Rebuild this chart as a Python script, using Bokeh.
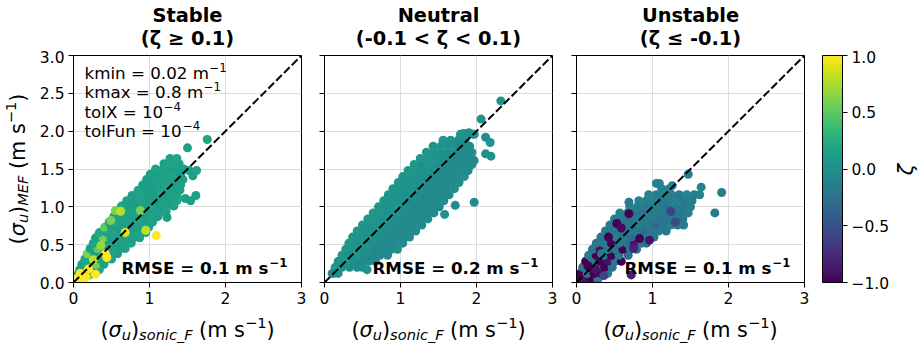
import math
from bokeh.plotting import figure
from bokeh.models import (Range1d, FixedTicker, NumeralTickFormatter, CustomJSTickFormatter,
                          LinearColorMapper, ColorBar, Label, Slope, ColumnDataSource)
from bokeh.layouts import row, column
from bokeh.palettes import Viridis256
from bokeh.embed import file_html
from bokeh.resources import INLINE

FONT = "DejaVu Sans"

# ---------------- data ----------------
panel_titles = ["Stable", "Neutral", "Unstable"]
panel_subtitles = ["(\u03b6 \u2265 0.1)", "(-0.1 < \u03b6 < 0.1)", "(\u03b6 \u2264 -0.1)"]
rmse_values = ["0.1", "0.2", "0.1"]
x_ticks = [0, 1, 2, 3]
y_ticks = [0, 0.5, 1.0, 1.5, 2.0, 2.5, 3.0]
cbar_ticks = [-1.0, -0.5, 0.0, 0.5, 1.0]
settings_lines = ["kmin = 0.02 m", "kmax = 0.8 m", "tolX = 10", "tolFun = 10"]
settings_sups = ["\u22121", "\u22121", "\u22124", "\u22124"]

# Stable: rows of the dense cloud
st_row_y = [0.03, 0.10, 0.17, 0.24, 0.31, 0.38, 0.45, 0.52, 0.59, 0.66, 0.73, 0.80,
            0.87, 0.94, 1.01, 1.08, 1.15, 1.22, 1.29, 1.36, 1.43, 1.50, 1.57, 1.64]
st_row_x = [
    [0.02, 0.10],
    [0.05, 0.14, 0.22],
    [0.08, 0.17, 0.26, 0.34],
    [0.11, 0.20, 0.30, 0.40],
    [0.15, 0.24, 0.34, 0.44, 0.50],
    [0.18, 0.28, 0.38, 0.48, 0.58],
    [0.22, 0.32, 0.42, 0.52, 0.62, 0.68],
    [0.26, 0.36, 0.46, 0.56, 0.66, 0.76],
    [0.29, 0.39, 0.49, 0.59, 0.69, 0.79, 0.87],
    [0.34, 0.44, 0.54, 0.64, 0.74, 0.84, 0.95],
    [0.41, 0.50, 0.60, 0.70, 0.80, 0.90, 0.99],
    [0.47, 0.56, 0.66, 0.76, 0.86, 0.96, 1.04],
    [0.53, 0.62, 0.72, 0.82, 0.92, 1.02, 1.11],
    [0.58, 0.67, 0.77, 0.87, 0.97, 1.07, 1.17, 1.22],
    [0.63, 0.73, 0.83, 0.93, 1.03, 1.13, 1.23, 1.32],
    [0.70, 0.80, 0.90, 1.00, 1.10, 1.20, 1.30, 1.36],
    [0.77, 0.87, 0.97, 1.07, 1.17, 1.27, 1.36],
    [0.85, 0.95, 1.05, 1.15, 1.25, 1.35, 1.40],
    [0.91, 1.01, 1.11, 1.21, 1.31, 1.41],
    [0.96, 1.06, 1.16, 1.26, 1.36, 1.44],
    [1.01, 1.11, 1.21, 1.31, 1.41],
    [1.08, 1.18, 1.28, 1.38, 1.45],
    [1.19, 1.29, 1.39],
    [1.27, 1.36],
]
st_row_z = [
    [0.17, 0.14],
    [0.2, 0.14, 0.55],
    [0.17, 0.5, 0.14, 0.2],
    [0.14, 0.2, 0.6, 0.14],
    [0.2, 0.14, 0.17, 0.14, 0.11],
    [0.6, 0.14, 0.2, 0.11, 0.14],
    [0.14, 0.5, 0.14, 0.17, 0.11, 0.14],
    [0.17, 0.14, 0.2, 0.11, 0.14, 0.17],
    [0.14, 0.6, 0.14, 0.17, 0.11, 0.14, 0.14],
    [0.2, 0.14, 0.17, 0.14, 0.11, 0.17, 0.14],
    [0.5, 0.14, 0.11, 0.17, 0.14, 0.11, 0.14],
    [0.14, 0.17, 0.14, 0.11, 0.17, 0.14, 0.11],
    [0.17, 0.14, 0.11, 0.14, 0.11, 0.17, 0.14],
    [0.14, 0.2, 0.14, 0.11, 0.14, 0.11, 0.14, 0.17],
    [0.17, 0.14, 0.11, 0.14, 0.17, 0.11, 0.14, 0.14],
    [0.14, 0.11, 0.17, 0.11, 0.14, 0.14, 0.11, 0.17],
    [0.14, 0.17, 0.11, 0.14, 0.11, 0.14, 0.14],
    [0.17, 0.14, 0.11, 0.17, 0.14, 0.11, 0.14],
    [0.14, 0.11, 0.14, 0.17, 0.11, 0.14],
    [0.11, 0.14, 0.17, 0.14, 0.11, 0.14],
    [0.14, 0.11, 0.14, 0.17, 0.14],
    [0.17, 0.14, 0.11, 0.14, 0.14],
    [0.14, 0.17, 0.14],
    [0.14, 0.17],
]
st_out_x = [1.50, 1.76, 1.52, 1.57, 1.62, 1.47, 1.54, 1.61, 1.23, 1.09, 0.04, 0.12, 0.29,
            0.16, 0.44, 0.20, 0.68, 0.55, 0.49, 0.95, 0.36, 0.26, 0.09, 0.42, 0.62, 0.88]
st_out_y = [1.78, 1.89, 1.48, 1.41, 1.48, 1.11, 1.08, 1.15, 0.86, 0.62, 0.05, 0.03, 0.11,
            0.07, 0.33, 0.18, 0.66, 0.95, 0.82, 0.69, 0.49, 0.30, 0.12, 0.38, 0.94, 0.95]
st_out_z = [0.14, 0.17, 0.14, 0.11, 0.17, 0.14, 0.11, 0.14, 0.11, 1.0, 1.0, 1.0, 1.0,
            1.0, 1.0, 1.0, 0.9, 0.6, 0.6, 0.8, 0.7, 0.8, 1.0, 1.0, 0.8, 0.6]

# Neutral
ne_row_y = [0.12, 0.20, 0.28, 0.36, 0.44, 0.52, 0.60, 0.68, 0.76, 0.84, 0.92, 1.00,
            1.08, 1.16, 1.24, 1.32, 1.40, 1.48, 1.56, 1.64, 1.72, 1.80, 1.88, 1.96]
ne_row_x = [
    [0.10, 0.18],
    [0.14, 0.23, 0.33, 0.43, 0.50],
    [0.18, 0.28, 0.38, 0.48, 0.58, 0.67],
    [0.23, 0.33, 0.43, 0.53, 0.63, 0.73, 0.83],
    [0.28, 0.38, 0.48, 0.58, 0.68, 0.78, 0.88, 0.96],
    [0.32, 0.42, 0.52, 0.62, 0.72, 0.82, 0.92, 1.03],
    [0.37, 0.47, 0.57, 0.67, 0.77, 0.87, 0.97, 1.07, 1.12],
    [0.43, 0.53, 0.63, 0.73, 0.83, 0.93, 1.03, 1.13, 1.20],
    [0.50, 0.60, 0.70, 0.80, 0.90, 1.00, 1.10, 1.20, 1.28],
    [0.57, 0.67, 0.77, 0.87, 0.97, 1.07, 1.17, 1.27, 1.36],
    [0.64, 0.74, 0.84, 0.94, 1.04, 1.14, 1.24, 1.34, 1.44],
    [0.71, 0.81, 0.91, 1.01, 1.11, 1.21, 1.31, 1.41, 1.51],
    [0.78, 0.88, 0.98, 1.08, 1.18, 1.28, 1.38, 1.48, 1.57],
    [0.84, 0.94, 1.04, 1.14, 1.24, 1.34, 1.44, 1.54, 1.64],
    [0.90, 1.00, 1.10, 1.20, 1.30, 1.40, 1.50, 1.60, 1.71],
    [0.97, 1.07, 1.17, 1.27, 1.37, 1.47, 1.57, 1.67, 1.77],
    [1.03, 1.13, 1.23, 1.33, 1.43, 1.53, 1.63, 1.73, 1.84],
    [1.10, 1.20, 1.30, 1.40, 1.50, 1.60, 1.70, 1.80, 1.89],
    [1.18, 1.28, 1.38, 1.48, 1.58, 1.68, 1.78, 1.88, 1.94],
    [1.26, 1.36, 1.46, 1.56, 1.66, 1.76, 1.86, 1.94],
    [1.34, 1.44, 1.54, 1.64, 1.74, 1.84, 1.94],
    [1.43, 1.53, 1.63, 1.73, 1.83, 1.91],
    [1.56, 1.66, 1.76, 1.85],
    [1.79, 1.88, 1.95],
]
ne_row_z = [
    [0.02, -0.02],
    [0.04, 0.0, -0.03, -0.05, -0.02],
    [0.03, 0.05, 0.0, -0.04, -0.06, -0.03],
    [0.05, 0.02, 0.04, -0.02, -0.05, -0.06, -0.03],
    [0.04, 0.06, 0.02, 0.0, -0.04, -0.06, -0.05, -0.02],
    [0.05, 0.03, 0.04, 0.0, -0.03, -0.06, -0.04, -0.05],
    [0.06, 0.04, 0.02, 0.03, -0.02, -0.05, -0.06, -0.04, -0.03],
    [0.04, 0.05, 0.03, 0.0, -0.03, -0.06, -0.05, -0.04, -0.02],
    [0.05, 0.03, 0.04, 0.01, -0.02, -0.05, -0.06, -0.03, -0.04],
    [0.06, 0.04, 0.02, 0.03, -0.01, -0.04, -0.06, -0.05, -0.02],
    [0.04, 0.05, 0.03, 0.0, -0.03, -0.05, -0.04, -0.06, -0.03],
    [0.05, 0.03, 0.04, 0.02, -0.02, -0.06, -0.05, -0.03, -0.04],
    [0.06, 0.04, 0.03, 0.0, -0.03, -0.04, -0.06, -0.05, -0.02],
    [0.04, 0.05, 0.02, 0.03, -0.02, -0.05, -0.04, -0.06, -0.03],
    [0.05, 0.04, 0.03, 0.0, -0.03, -0.06, -0.05, -0.04, -0.02],
    [0.06, 0.03, 0.04, 0.01, -0.02, -0.04, -0.06, -0.05, -0.03],
    [0.04, 0.05, 0.02, 0.0, -0.03, -0.05, -0.04, -0.06, -0.02],
    [0.05, 0.04, 0.03, 0.02, -0.02, -0.06, -0.05, -0.03, -0.04],
    [0.06, 0.03, 0.04, 0.0, -0.03, -0.04, -0.05, -0.06, -0.02],
    [0.04, 0.05, 0.02, 0.0, -0.03, -0.05, -0.04, -0.02],
    [0.05, 0.04, 0.03, -0.02, -0.04, -0.05, -0.03],
    [0.04, 0.05, 0.02, -0.02, -0.04, -0.03],
    [0.05, 0.03, 0.0, -0.03],
    [0.03, 0.02, -0.02],
]
ne_out_x = [2.32, 2.06, 1.83, 1.90, 1.97, 2.12, 2.18, 2.12, 2.19, 1.97, 1.97, 1.58, 1.72, 0.56, 0.12]
ne_out_y = [2.40, 2.16, 1.97, 1.98, 1.96, 1.92, 1.85, 1.70, 1.67, 1.61, 1.06, 0.90, 1.02, 0.17, 0.12]
ne_out_z = [0.02, 0.03, 0.04, 0.0, -0.02, -0.03, 0.02, 0.0, 0.03, -0.04, -0.02, 0.01, -0.03, 0.02, -0.05]

# Unstable
un_row_y = [0.04, 0.12, 0.20, 0.28, 0.36, 0.44, 0.52, 0.60, 0.68, 0.76, 0.84, 0.92,
            1.00, 1.08, 1.16, 1.24]
un_row_x = [
    [0.02, 0.10, 0.19, 0.28],
    [0.05, 0.14, 0.23, 0.32, 0.41],
    [0.08, 0.17, 0.27, 0.37, 0.47],
    [0.12, 0.21, 0.31, 0.41, 0.51, 0.59],
    [0.16, 0.26, 0.36, 0.46, 0.56, 0.68],
    [0.21, 0.31, 0.41, 0.51, 0.61, 0.71, 0.79],
    [0.26, 0.36, 0.46, 0.56, 0.66, 0.76, 0.86, 0.92],
    [0.32, 0.42, 0.52, 0.62, 0.72, 0.82, 0.92, 1.02],
    [0.38, 0.48, 0.58, 0.68, 0.78, 0.88, 0.98, 1.08, 1.18],
    [0.44, 0.54, 0.64, 0.74, 0.84, 0.94, 1.04, 1.14, 1.24, 1.33],
    [0.50, 0.60, 0.70, 0.80, 0.90, 1.00, 1.10, 1.20, 1.30, 1.40],
    [0.57, 0.67, 0.77, 0.87, 0.97, 1.07, 1.17, 1.27, 1.37, 1.47],
    [0.70, 0.80, 0.90, 1.00, 1.10, 1.20, 1.30, 1.40, 1.50],
    [0.82, 0.92, 1.02, 1.12, 1.22, 1.32, 1.42, 1.52],
    [0.95, 1.05, 1.15, 1.25, 1.35, 1.45, 1.55, 1.62],
    [1.12, 1.22],
]
un_row_z = [
    [-1.0, -0.9, -1.0, -0.2],
    [-1.0, -0.15, -1.0, -0.95, -0.2],
    [-0.2, -1.0, -0.3, -1.0, -0.25],
    [-1.0, -0.2, -1.0, -0.9, -0.2, -1.0],
    [-0.15, -1.0, -0.25, -1.0, -0.2, -0.3],
    [-0.2, -0.9, -0.15, -0.2, -1.0, -0.2, -0.25],
    [-0.2, -0.15, -1.0, -0.2, -0.25, -0.9, -0.2, -0.3],
    [-0.2, -0.25, -0.15, -0.2, -0.3, -0.2, -0.15, -0.2],
    [-0.15, -0.2, -0.25, -0.15, -0.2, -0.3, -0.2, -0.15, -0.2],
    [-0.2, -0.15, -0.2, -0.25, -0.15, -0.2, -0.3, -0.2, -0.15, -0.2],
    [-0.15, -0.2, -0.25, -0.2, -0.15, -0.2, -0.25, -0.2, -0.15, -0.2],
    [-0.1, -0.15, -0.2, -0.25, -0.15, -0.2, -0.15, -0.25, -0.2, -0.15],
    [-0.1, -0.15, -0.2, -0.15, -0.2, -0.25, -0.15, -0.2, -0.15],
    [-0.1, -0.15, -0.1, -0.2, -0.15, -0.1, -0.2, -0.15],
    [-0.1, -0.15, -0.1, -0.15, -0.2, -0.1, -0.15, -0.1],
    [-0.1, -0.15],
]
un_out_x = [1.05, 1.09, 1.47, 1.64, 1.91, 1.82, 0.69, 1.41, 1.26, 0.36, 0.72, 0.69,
            0.83, 0.96, 0.53, 0.59, 0.42, 0.75, 1.24, 1.30, 0.15, 0.25, 0.33]
un_out_y = [1.31, 1.31, 1.43, 1.26, 1.19, 0.92, 1.06, 0.76, 1.28, 0.09, 0.10, 0.91,
            0.58, 0.56, 0.78, 0.72, 0.60, 0.45, 0.94, 0.80, 0.22, 0.17, 0.38]
un_out_z = [-0.1, -0.1, -0.15, -0.1, -0.15, -0.2, -0.2, -0.15, -0.1, -0.6, -0.85, -1.0,
            -1.0, -0.9, -1.0, -0.95, -1.0, -0.8, -0.6, -0.55, -1.0, -0.9, -0.2]


def flatten(rows_y, rows_x, rows_z, ox, oy, oz):
    xs, ys, zs = [], [], []
    for yv, xr, zr in zip(rows_y, rows_x, rows_z):
        for i, xv in enumerate(xr):
            xs.append(xv)
            ys.append(yv)
            zs.append(zr[i % len(zr)])
    return dict(x=xs + ox, y=ys + oy, z=zs + oz)


panel_data = [
    flatten(st_row_y, st_row_x, st_row_z, st_out_x, st_out_y, st_out_z),
    flatten(ne_row_y, ne_row_x, ne_row_z, ne_out_x, ne_out_y, ne_out_z),
    flatten(un_row_y, un_row_x, un_row_z, un_out_x, un_out_y, un_out_z),
]

mapper = LinearColorMapper(palette=Viridis256, low=-1, high=1)

FS_TICK = "15.5px"
FS_LAB = 20.8
FS_SUB = 14.6
FS_ANN = 16.7
FS_ANN_SUP = 11.7
FS_TITLE = 19.4
BASE_FIX = 0.24   # rendered text sits this fraction of its size below the anchor


def lab(p, x, y, text, size, style="normal", angle=0.0, align="left", baseline="alphabetic"):
    d = BASE_FIX * size
    x = x - math.sin(angle) * d
    y = y + math.cos(angle) * d
    p.add_layout(Label(x=round(x, 2), y=round(y, 2), x_units="screen", y_units="screen", text=text,
                       text_font=FONT, text_font_size=f"{size}px",
                       text_font_style=style, text_align=align, text_baseline=baseline,
                       angle=angle, text_color="black"))


def text_fig(w, h):
    f = figure(width=w, height=h, min_border=0, min_border_left=0, min_border_right=0,
               min_border_top=0, min_border_bottom=0,
               x_range=Range1d(0, 1), y_range=Range1d(0, 1),
               x_axis_location=None, y_axis_location=None,
               output_backend="svg", toolbar_location=None)
    f.outline_line_color = None
    f.grid.visible = False
    f.background_fill_color = "white"
    f.border_fill_color = "white"
    return f


# main plot row: frames are 228x227, top at y=55 of the page
TOP_H, MID_H, BOT_H = 50, 262, 33


def make_panel(i, width, bl, br):
    p = figure(width=width, height=MID_H, min_border_left=bl, min_border_right=br,
               min_border_top=5, min_border_bottom=30,
               x_range=Range1d(0, 3), y_range=Range1d(0, 3),
               output_backend="svg", toolbar_location=None)
    p.background_fill_color = "white"
    p.border_fill_color = "white"
    p.outline_line_color = "black"
    p.outline_line_width = 1
    p.outline_line_alpha = 1

    p.xaxis.ticker = FixedTicker(ticks=x_ticks)
    p.yaxis.ticker = FixedTicker(ticks=y_ticks)
    p.xaxis.formatter = NumeralTickFormatter(format="0")
    if i == 0:
        p.yaxis.formatter = NumeralTickFormatter(format="0.0")
        p.yaxis.major_label_standoff = 4
    else:
        p.yaxis.formatter = CustomJSTickFormatter(code="return '';")
        p.yaxis.major_label_standoff = 0
    for ax in (p.xaxis[0], p.yaxis[0]):
        ax.axis_line_color = "black"
        ax.axis_line_width = 1
        ax.major_tick_line_color = "black"
        ax.major_tick_line_width = 1
        ax.major_tick_out = 5
        ax.major_tick_in = 0
        ax.minor_tick_line_color = None
        ax.major_label_text_font = FONT
        ax.major_label_text_font_size = FS_TICK
        ax.major_label_text_color = "black"
    p.xaxis.major_label_standoff = 4

    p.grid.grid_line_color = "#dcdcdc"
    p.grid.grid_line_width = 1

    src = ColumnDataSource(panel_data[i])
    p.scatter(x="x", y="y", source=src, size=9,
              fill_color={"field": "z", "transform": mapper},
              line_color=None)
    p.add_layout(Slope(gradient=1, y_intercept=0, line_color="black", line_width=2,
                       line_dash="8 3"))

    # RMSE annotation (inside the frame)
    lab(p, 48, 10.5, "RMSE = " + rmse_values[i] + " m s", FS_ANN, style="bold")
    lab(p, 196, 17.2, "\u22121", FS_ANN_SUP, style="bold")
    return p


YW = 30
ZW = 30
p1 = make_panel(0, 312 - YW, 73 - YW, 11)
p2 = make_panel(1, 252, 12, 12)
p3 = make_panel(2, 250, 12, 10)

# settings text in first panel
ann_base = [205.7, 186.3, 166.7, 147.3]
ann_sup_x = [136.0, 130.3, 90.2, 109.5]
for k in range(4):
    lab(p1, 11, ann_base[k], settings_lines[k], FS_ANN)
    lab(p1, ann_sup_x[k], ann_base[k] + 6.7, settings_sups[k], FS_ANN_SUP)

# colour bar figure (frame covers bar + its tick labels)
p4 = figure(width=105 - ZW, height=MID_H, min_border_left=8, min_border_right=0,
            min_border_top=5, min_border_bottom=30,
            x_range=Range1d(0, 1), y_range=Range1d(-1, 1),
            x_axis_location=None, y_axis_location=None,
            output_backend="svg", toolbar_location=None)
p4.outline_line_color = None
p4.grid.visible = False
p4.background_fill_color = "white"
p4.border_fill_color = "white"
cb = ColorBar(color_mapper=mapper, location=(0, 0), orientation="vertical",
              width=20, height=227, padding=0, margin=0,
              ticker=FixedTicker(ticks=cbar_ticks),
              formatter=CustomJSTickFormatter(
                  code="return (tick < 0 ? '\\u2212' : '') + Math.abs(tick).toFixed(1);"),
              major_label_text_font=FONT, major_label_text_font_size=FS_TICK,
              major_label_text_color="black",
              major_tick_out=5, major_tick_in=0, major_tick_line_color="black",
              minor_tick_line_color=None, label_standoff=4,
              bar_line_color="black", bar_line_width=1,
              border_line_color=None, background_fill_color=None)
p4.add_layout(cb, "center")

# colour bar label, rotated, in its own full-height column at the right
zl = text_fig(ZW, 345)
lab(zl, 21.5, 170.3, "\u03b6", FS_LAB, style="italic", angle=math.pi / 2)

# title row
t1 = text_fig(312 - YW, TOP_H)
t2 = text_fig(252, TOP_H)
t3 = text_fig(250, TOP_H)
t4 = text_fig(105 - ZW, TOP_H)
for f, cx, k in ((t1, 157, 0), (t2, 126, 1), (t3, 126, 2)):
    lab(f, cx, 30, panel_titles[k], FS_TITLE, style="bold", align="center")
    lab(f, cx, 7.8, panel_subtitles[k], FS_TITLE, style="bold", align="center")

# x-label row
b1 = text_fig(312 - YW, BOT_H)
b2 = text_fig(252, BOT_H)
b3 = text_fig(250, BOT_H)
b4 = text_fig(105 - ZW, BOT_H)
xpieces = [(0, "(", FS_LAB, "normal", 0), (8.1, "\u03c3", FS_LAB, "italic", 0),
           (21.3, "u", FS_SUB, "italic", -3), (30.5, ")", FS_LAB, "normal", 0),
           (38.6, "sonic_F", FS_SUB, "italic", -3), (98.6, "(m s", FS_LAB, "normal", 0),
           (144.4, "\u22121", FS_SUB, "normal", 8.3), (165.9, ")", FS_LAB, "normal", 0)]
for f, x0 in ((b1, 70), (b2, 39), (b3, 39)):
    for dx, t, sz, st, dy in xpieces:
        lab(f, x0 + dx, 11 + dy, t, sz, style=st)

# y-label column (rotated text)
yl = text_fig(YW, 345)
bx, by = 22.5, 101.1
ypieces = [(0, "(", FS_LAB, "normal", 0), (8.1, "\u03c3", FS_LAB, "italic", 0),
           (21.3, "u", FS_SUB, "italic", -3), (30.5, ")", FS_LAB, "normal", 0),
           (38.6, "MEF", FS_SUB, "italic", -3), (75.3, "(m s", FS_LAB, "normal", 0),
           (121.1, "\u22121", FS_SUB, "normal", 8.3), (142.6, ")", FS_LAB, "normal", 0)]
for dx, t, sz, st, dy in ypieces:
    lab(yl, bx - dy, by + dx, t, sz, style=st, angle=math.pi / 2)

layout = row(yl, column(row(t1, t2, t3, t4), row(p1, p2, p3, p4), row(b1, b2, b3, b4)), zl)
open("out.html", "w").write(file_html(layout, INLINE))
